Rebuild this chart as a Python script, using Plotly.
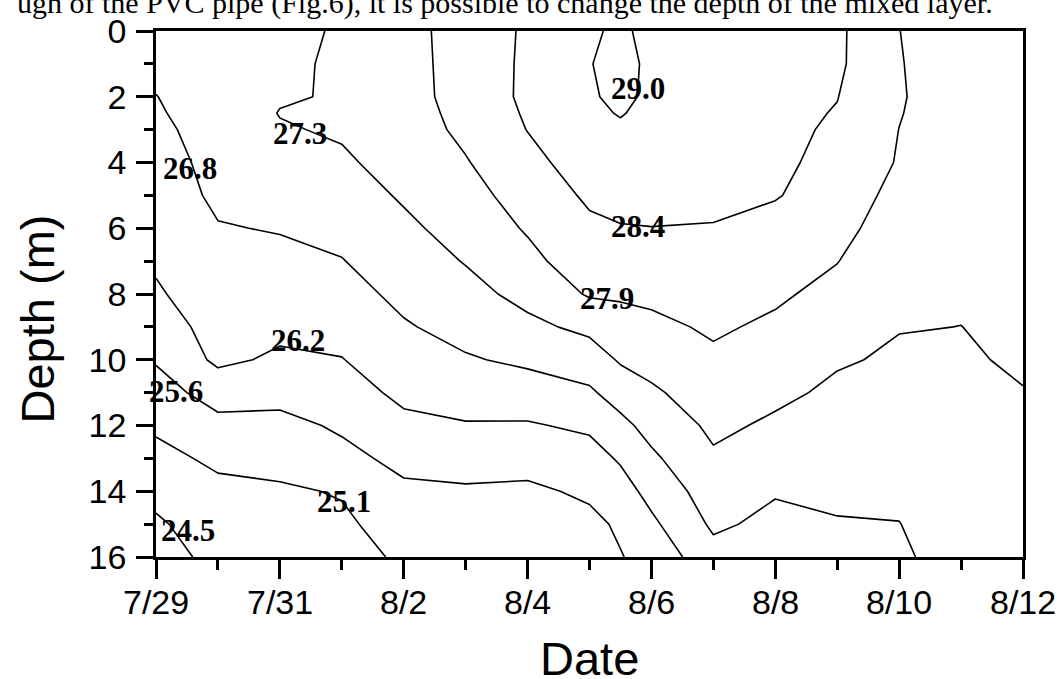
import plotly.graph_objects as go

# Days after 7/29 at which profiles are given, and depths (m)
days = [0, 1, 2, 3, 4, 5, 6, 7, 7.5, 8, 9, 10, 11, 12, 13, 14]
depths = [0, 1, 2, 2.5, 3, 4, 5, 6, 7, 8, 9, 10, 11, 12, 13, 14, 15, 16]

# Temperature profiles (deg C) for each day, at the depths above
t_0729 = [27.00, 26.88, 26.74, 26.70, 26.65, 26.55, 26.45, 26.36, 26.26, 26.12, 25.90, 25.67, 25.41, 25.15, 24.90, 24.66, 24.42, 24.18]
t_0730 = [27.15, 27.08, 27.02, 26.98, 26.94, 26.90, 26.85, 26.72, 26.62, 26.51, 26.41, 26.30, 25.84, 25.48, 25.17, 24.93, 24.80, 24.72]
t_0731 = [27.24, 27.25, 27.27, 27.33, 27.27, 27.10, 26.94, 26.78, 26.62, 26.46, 26.31, 26.10, 25.82, 25.45, 25.24, 24.99, 24.79, 24.66]
t_0801 = [27.34, 27.36, 27.35, 27.36, 27.37, 27.24, 27.07, 26.90, 26.73, 26.55, 26.37, 26.17, 25.95, 25.71, 25.46, 25.10, 24.97, 24.85]
t_0802 = [27.71, 27.70, 27.69, 27.65, 27.61, 27.50, 27.37, 27.21, 27.04, 26.88, 26.70, 26.51, 26.31, 26.06, 25.78, 25.52, 25.30, 25.15]
t_0803 = [28.08, 28.07, 28.06, 28.03, 27.99, 27.84, 27.68, 27.51, 27.34, 27.14, 26.93, 26.70, 26.43, 26.15, 25.85, 25.56, 25.34, 25.25]
t_0804 = [28.52, 28.54, 28.55, 28.50, 28.45, 28.28, 28.11, 27.93, 27.72, 27.47, 27.19, 26.85, 26.49, 26.14, 25.82, 25.53, 25.30, 25.20]
t_0805 = [28.96, 28.99, 28.97, 28.93, 28.88, 28.70, 28.52, 28.34, 28.21, 27.93, 27.44, 27.04, 26.67, 26.28, 25.97, 25.71, 25.50, 25.38]
t_0805h = [29.05, 29.08, 29.06, 29.02, 28.95, 28.77, 28.60, 28.41, 28.19, 27.94, 27.67, 27.37, 26.99, 26.60, 26.25, 25.96, 25.70, 25.60]
t_0806 = [28.92, 28.95, 28.95, 28.91, 28.87, 28.73, 28.58, 28.43, 28.22, 27.99, 27.75, 27.50, 27.23, 26.94, 26.65, 26.36, 26.08, 25.81]
t_0807 = [28.78, 28.78, 28.76, 28.73, 28.69, 28.61, 28.52, 28.42, 28.26, 28.10, 27.95, 27.78, 27.60, 27.42, 27.24, 27.03, 26.84, 26.56]
t_0808 = [28.62, 28.61, 28.59, 28.58, 28.56, 28.51, 28.46, 28.32, 28.14, 27.96, 27.78, 27.60, 27.42, 27.23, 27.04, 26.79, 26.62, 26.50]
t_0809 = [28.54, 28.53, 28.45, 28.41, 28.37, 28.33, 28.27, 28.10, 27.89, 27.71, 27.53, 27.36, 27.22, 27.09, 26.97, 26.84, 26.72, 26.62]
t_0810 = [27.88, 27.90, 27.92, 27.90, 27.87, 27.83, 27.66, 27.50, 27.44, 27.39, 27.33, 27.25, 27.15, 27.05, 26.95, 26.85, 26.74, 26.66]
t_0811 = [27.62, 27.60, 27.57, 27.56, 27.54, 27.51, 27.47, 27.44, 27.40, 27.36, 27.31, 27.27, 27.22, 27.16, 27.10, 27.08, 27.04, 27.00]
t_0812 = [27.52, 27.50, 27.48, 27.48, 27.47, 27.46, 27.45, 27.44, 27.43, 27.42, 27.40, 27.36, 27.30, 27.24, 27.18, 27.13, 27.08, 27.04]

profiles = [t_0729, t_0730, t_0731, t_0801, t_0802, t_0803, t_0804, t_0805,
            t_0805h, t_0806, t_0807, t_0808, t_0809, t_0810, t_0811, t_0812]

# Tick labels
date_tickvals = [0, 2, 4, 6, 8, 10, 12, 14]
date_ticktext = ["7/29", "7/31", "8/2", "8/4", "8/6", "8/8", "8/10", "8/12"]
depth_tickvals = [0, 2, 4, 6, 8, 10, 12, 14, 16]

# Contour levels and their label text
level_start, level_end, level_step = 24.5, 29.0, 0.5625
label_text = ["29.0", "28.4", "27.9", "27.3", "26.8", "26.2", "25.6", "25.1", "24.5"]
# label placement (day, depth) -- layout only
label_pos = [(7.78, 1.74), (7.78, 5.95), (7.28, 8.14), (2.33, 3.12), (0.55, 4.17),
             (2.30, 9.40), (0.32, 10.96), (3.03, 14.30), (0.52, 15.20)]

z = [[profiles[j][i] for j in range(len(days))] for i in range(len(depths))]

fig = go.Figure()
fig.add_trace(go.Contour(
    x=days, y=depths, z=z,
    autocontour=False,
    contours=dict(start=level_start, end=level_end, size=level_step,
                  coloring="none", showlabels=False),
    line=dict(color="black", width=1.6, smoothing=0),
    showscale=False, hoverinfo="skip",
))

for txt, (dx, dy) in zip(label_text, label_pos):
    fig.add_annotation(x=dx, y=dy, xref="x", yref="y", text="<b>%s</b>" % txt,
                       showarrow=False, font=dict(family="Liberation Serif", size=31, color="black"))

sans = "Liberation Sans, Arial, sans-serif"
# date tick labels
for tv, tt in zip(date_tickvals, date_ticktext):
    fig.add_annotation(x=tv, y=-0.086, xref="x", yref="paper", text=tt, showarrow=False,
                       font=dict(family=sans, size=34, color="black"),
                       xanchor="center", yanchor="middle")

fig.add_annotation(x=0.5, y=-0.193, xref="paper", yref="paper", text="Date", showarrow=False,
                   font=dict(family=sans, size=47, color="black"), xanchor="center", yanchor="middle")
fig.add_annotation(x=-0.137, y=0.452, xref="paper", yref="paper", text="Depth (m)", showarrow=False,
                   textangle=-90, font=dict(family=sans, size=47, color="black"),
                   xanchor="center", yanchor="middle")
fig.add_annotation(x=-0.163, y=1.0525, xref="paper", yref="paper",
                   text="ugh of the PVC pipe (Fig.6), it is possible to change the depth of the mixed layer.",
                   showarrow=False, font=dict(family="Liberation Serif", size=30, color="black"),
                   xanchor="left", yanchor="middle")

fig.update_layout(
    width=1060, height=679,
    margin=dict(l=156, r=37, t=24, b=122),
    paper_bgcolor="white", plot_bgcolor="white",
    showlegend=False,
    xaxis=dict(range=[0, 14], tickmode="array", tickvals=date_tickvals, showticklabels=False,
               ticks="outside", ticklen=19, tickwidth=2.5, tickcolor="black",
               showline=True, linewidth=2.5, linecolor="black", mirror=True,
               showgrid=False, zeroline=False,
               minor=dict(tickmode="linear", tick0=0, dtick=1, ticks="outside", ticklen=10,
                          tickwidth=2.5, tickcolor="black", showgrid=False)),
    yaxis=dict(range=[16, 0], tickmode="array", tickvals=depth_tickvals,
               ticks="outside", ticklen=17, tickwidth=2.5, tickcolor="black",
               showline=True, linewidth=2.5, linecolor="black", mirror=True,
               showgrid=False, zeroline=False, ticklabelstandoff=3,
               tickfont=dict(family=sans, size=34, color="black"),
               minor=dict(tickmode="linear", tick0=0, dtick=1, ticks="outside", ticklen=9,
                          tickwidth=2.5, tickcolor="black", showgrid=False)),
)

fig.write_html("out.html", config={"displayModeBar": False},
               post_script="document.body.style.margin='0';document.body.style.overflow='hidden';")
